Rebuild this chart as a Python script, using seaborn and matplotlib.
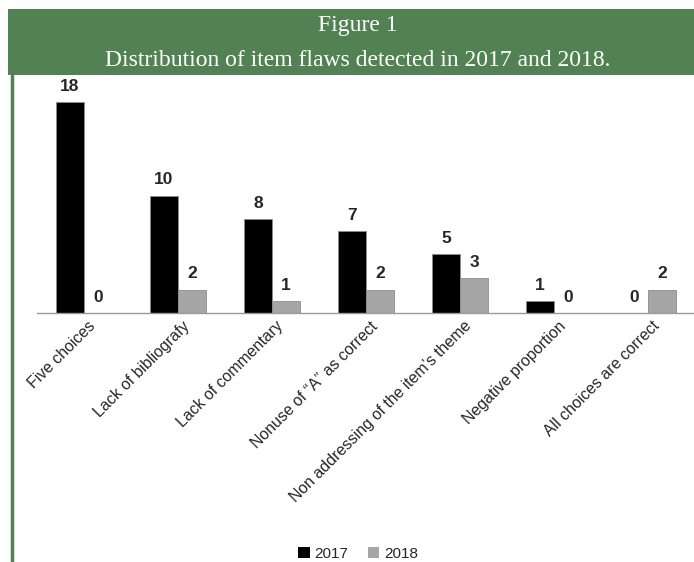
import matplotlib
matplotlib.use("Agg")
import matplotlib.pyplot as plt
import matplotlib.transforms as mtransforms
import seaborn as sns
import pandas as pd
import numpy as np
from matplotlib.patches import Rectangle
from matplotlib.lines import Line2D

categories = ["Five choices", "Lack of bibliografy", "Lack of commentary",
              "Nonuse of \u201cA\u201d as correct", "Non addressing of the item\u2019s theme",
              "Negative proportion", "All choices are correct"]
values_2017 = [18, 10, 8, 7, 5, 1, 0]
values_2018 = [0, 2, 1, 2, 3, 0, 2]
years = ["2017", "2018"]
colors = ["#000000", "#a6a6a6"]

df = pd.DataFrame({
    "category": categories * 2,
    "value": values_2017 + values_2018,
    "year": [years[0]] * len(categories) + [years[1]] * len(categories),
})

sns.set_style("white")
plt.rcParams['font.family'] = ['Liberation Sans', 'DejaVu Sans']

W, H = 694, 562
fig = plt.figure(figsize=(W / 100, H / 100), dpi=100)

# header band
fig.patches.append(Rectangle((8 / W, 1 - 75 / H), 1 - 8 / W, 66 / H,
                             transform=fig.transFigure, facecolor="#528253",
                             edgecolor="none", zorder=0))
fig.lines.append(Line2D([11.5 / W, 11.5 / W], [0, 1 - 75 / H], transform=fig.transFigure,
                        color="#528253", lw=2.5))
fig.text(358 / W, 1 - 25 / H, "Figure 1", ha="center", va="center", color="white",
         fontsize=17, family=["Liberation Serif", "DejaVu Serif"])
fig.text(358 / W, 1 - 61 / H, "Distribution of item flaws detected in 2017 and 2018.",
         ha="center", va="center", color="white", fontsize=17,
         family=["Liberation Serif", "DejaVu Serif"])

ax = fig.add_axes([37 / W, 1 - 313 / H, 658 / W, (313 - 78.6) / H])
sns.barplot(data=df, x="category", y="value", hue="year", palette=colors,
            width=0.6, gap=0, ax=ax, edgecolor="#8c8c8c", linewidth=0.6,
            legend=False)
ax.set_ylim(0, 20)
ax.set_xlim(-0.5, len(categories) - 0.5)
for container in ax.containers:
    ax.bar_label(container, fmt="%d", padding=6, fontsize=12.5, fontweight="bold")

for s in ["top", "right", "left"]:
    ax.spines[s].set_visible(False)
ax.spines["bottom"].set_color("#9a9a9a")
ax.spines["bottom"].set_linewidth(1)
ax.set_yticks([])
ax.set_xlabel("")
ax.set_ylabel("")
ax.set_xticks(np.arange(-0.5, len(categories)), minor=True)
ax.tick_params(axis="x", which="minor", length=5, color="#9a9a9a", width=1)
ax.tick_params(axis="x", which="major", length=0, pad=4)
ax.set_xticks(range(len(categories)))
ax.set_xticklabels(categories, rotation=45, ha="right", rotation_mode="anchor",
                   fontsize=11.4)
offset = mtransforms.ScaledTranslation(4 / 100, 0, fig.dpi_scale_trans)
for lbl in ax.get_xticklabels():
    lbl.set_transform(lbl.get_transform() + offset)

handles = [Rectangle((0, 0), 1, 1, facecolor=c, edgecolor="none") for c in colors]
fig.legend(handles, years, loc="center", bbox_to_anchor=(358 / W, 1 - 554 / H), ncol=2,
           frameon=False, fontsize=11, handlelength=0.75, handleheight=0.75,
           handletextpad=0.3, columnspacing=1.3)

fig.savefig("out.png", dpi=100)
